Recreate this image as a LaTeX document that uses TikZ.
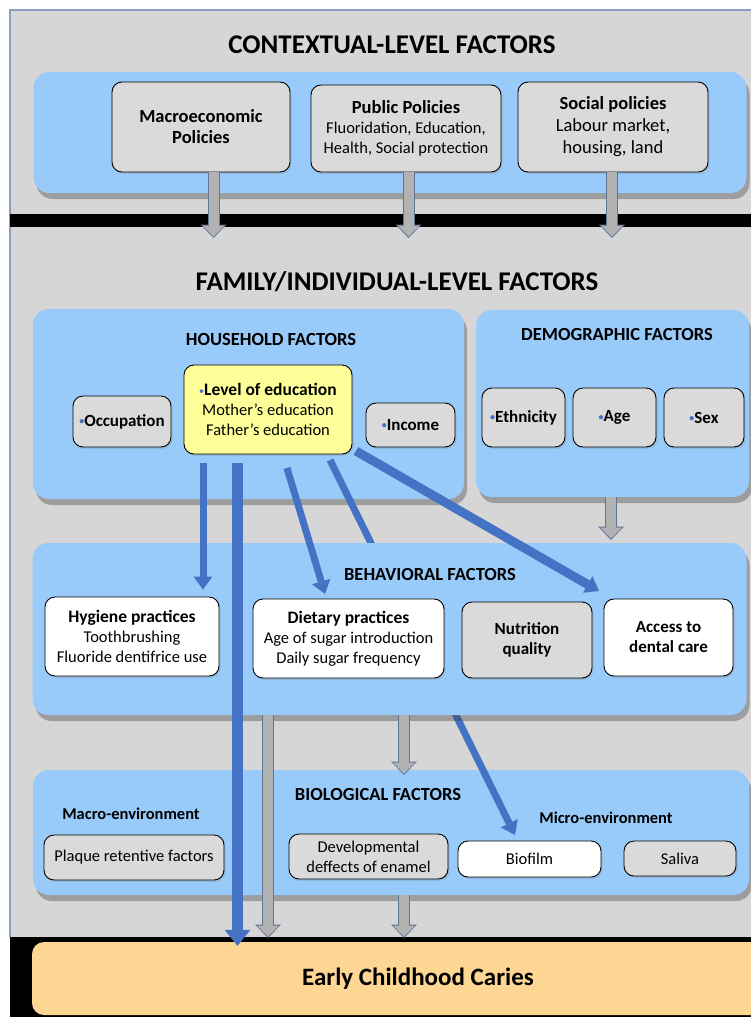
\documentclass[tikz,border=0pt]{standalone}
\usepackage{fontspec}
\setmainfont{Carlito}
\usepackage{xcolor}
\usetikzlibrary{arrows.meta,shadows}

\definecolor{bggray}{RGB}{214,214,214}
\definecolor{framecol}{RGB}{140,160,190}
\definecolor{panelblue}{RGB}{153,203,250}
\definecolor{boxgray}{RGB}{218,218,218}
\definecolor{eduyellow}{RGB}{255,255,153}
\definecolor{eccorange}{RGB}{253,214,148}
\definecolor{arrblue}{RGB}{68,114,196}
\definecolor{arrgray}{RGB}{178,178,178}
\definecolor{arredge}{RGB}{96,116,148}
\definecolor{bulblue}{RGB}{68,114,196}

\newcommand{\hbul}{\raisebox{1.5pt}{\textcolor{bulblue}{\fontsize{10}{10}\selectfont\textbullet}}}
\newcommand{\bhead}[2][17.5]{{\fontsize{#1}{20}\selectfont\bfseries #2}}

\tikzset{
  title/.style={font=\fontsize{27}{30}\selectfont\bfseries},
  subhead/.style={font=\fontsize{18.5}{21}\selectfont\bfseries},
  envhead/.style={font=\fontsize{16.5}{19}\selectfont\bfseries},
  panel/.style={fill=panelblue,rounded corners=16pt,
    drop shadow={shadow xshift=3pt,shadow yshift=-6pt,opacity=0.35,fill=black!80}},
  factbox/.style={draw=black,line width=0.9pt,fill=boxgray,rounded corners=10pt,
    align=center,inner sep=1pt,font=\fontsize{16.5}{20}\selectfont,
    drop shadow={shadow xshift=1.5pt,shadow yshift=-2pt,opacity=0.25}},
  whitebox/.style={factbox,fill=white},
  boldbox/.style={factbox,font=\fontsize{17}{20}\selectfont\bfseries},
  grayarr/.style={draw=arrgray,line width=10pt,
    -{Triangle[width=22pt,length=11pt,line width=0pt]},shorten >=1.5pt,
    preaction={draw=arredge,line width=12pt,
      -{Triangle[width=26pt,length=13.5pt,line width=0pt]},shorten >=0pt}},
  bluearr/.style={draw=arrblue,line width=7pt,
    -{Triangle[width=19pt,length=13pt,line width=0pt]}},
  thickbluearr/.style={bluearr,line width=11pt,
    -{Triangle[width=26pt,length=16pt,line width=0pt]}}
}

\begin{document}
\begin{tikzpicture}[x=1pt,y=-1pt]
    \useasboundingbox (0,0) rectangle (751,1017);
    % background and black bands
    \fill[bggray] (10,10) rectangle (751,937);
    \draw[framecol,line width=1.2pt] (10,937) -- (10,10) -- (751,10);
    \fill[black] (10,214) rectangle (751,227);
    \fill[black] (10,937) rectangle (751,1017);

    % contextual level
    \node[title] (ctxtitle) at (392,45) {CONTEXTUAL-LEVEL FACTORS};
    \node[panel,minimum width=713,minimum height=121] (ctxpanel) at (390,132.5) {};
    \node[factbox,font=\fontsize{18.5}{21}\selectfont\bfseries,
      minimum width=178,minimum height=90] (macro) at (201,127) {Macroeconomic\\Policies};
    \node[factbox,minimum width=190,minimum height=87] (public) at (406,128.5)
      {\bhead[18.5]{Public Policies}\\Fluoridation, Education,\\Health, Social protection};
    \node[factbox,font=\fontsize{18.5}{22}\selectfont,
      minimum width=190,minimum height=90] (social) at (613,127)
      {\textbf{Social policies}\\Labour market,\\housing, land};
    \coordinate (macrotip) at (213.5,238);
    \coordinate (publictip) at (408.5,238);
    \coordinate (socialtip) at (612,238);
    \draw[grayarr] (macro.south -| macrotip) -- (macrotip);
    \draw[grayarr] (public.south -| publictip) -- (publictip);
    \draw[grayarr] (social.south -| socialtip) -- (socialtip);

    % family / individual level
    \node[title] (famtitle) at (397,282) {FAMILY/INDIVIDUAL-LEVEL FACTORS};
    \node[panel,minimum width=431,minimum height=190] (household) at (248.5,404) {};
    \node[panel,minimum width=273,minimum height=187] (demo) at (612.5,403.5) {};
    \node[subhead] (hhhead) at (271,339) {HOUSEHOLD FACTORS};
    \node[subhead] (demohead) at (617,334.5) {DEMOGRAPHIC FACTORS};
    \node[boldbox,minimum width=98,minimum height=51] (occup) at (122,421.5) {\hbul Occupation};
    \node[factbox,fill=eduyellow,minimum width=168,minimum height=89] (edu) at (268,409.5)
      {\hbul\bhead{Level of education}\\Mother's education\\Father's education};
    \node[boldbox,minimum width=89,minimum height=44] (income) at (410.5,425) {\hbul Income};
    \node[boldbox,minimum width=83,minimum height=59] (ethn) at (523.5,417.5) {\hbul Ethnicity};
    \node[boldbox,minimum width=83,minimum height=59] (age) at (614.5,417.5) {\hbul Age};
    \node[boldbox,minimum width=80,minimum height=59] (sex) at (704,417.5) {\hbul Sex};
    \coordinate (demotip) at (611,540);
    \draw[grayarr] (demo.south -| demotip) -- (demotip);

    % biological factors (under the behavioral panel)
    \node[panel,minimum width=716,minimum height=125] (bio) at (391,832.5) {};
    \node[subhead] (biohead) at (378,794) {BIOLOGICAL FACTORS};
    \node[envhead] (macroenv) at (131,814) {Macro-environment};
    \node[envhead] (microenv) at (606,818) {Micro-environment};
    \node[factbox,minimum width=180,minimum height=45] (plaque) at (134,857.5) {Plaque retentive factors};
    \node[factbox,minimum width=159,minimum height=45] (enamel) at (368.5,856.5) {Developmental\\deffects of enamel};
    \node[whitebox,minimum width=143,minimum height=36] (biofilm) at (529.5,859) {Biofilm};
    \node[factbox,minimum width=112,minimum height=35] (saliva) at (680,858.5) {Saliva};
    \coordinate (eduD) at (330,460);
    \coordinate (filmin) at (515,835);
    \draw[bluearr] (eduD) -- (filmin);

    % behavioral factors
    \node[panel,minimum width=714,minimum height=172] (behav) at (389.5,629) {};
    \node[subhead] (behavhead) at (430,574) {BEHAVIORAL FACTORS};
    \node[whitebox,minimum width=174,minimum height=79] (hygiene) at (132,636.5)
      {\bhead{Hygiene practices}\\Toothbrushing\\Fluoride dentifrice use};
    \node[whitebox,minimum width=191,minimum height=79] (diet) at (348.5,638.5)
      {\bhead{Dietary practices}\\Age of sugar introduction\\Daily sugar frequency};
    \node[boldbox,minimum width=130,minimum height=76] (nutrition) at (527,640) {Nutrition\\quality};
    \node[boldbox,fill=white,minimum width=129,minimum height=77] (access) at (668.5,637.5) {Access to\\dental care};

    % arrows from level of education
    \coordinate (eduA) at (203,463);
    \coordinate (eduB) at (237.5,463);
    \coordinate (eduC) at (287,468);
    \coordinate (eduE) at (356,451);
    \coordinate (dietin) at (325,594);
    \coordinate (accin) at (599,591);
    \draw[bluearr] (eduA) -- ([yshift=7pt]hygiene.north -| eduA);
    \draw[bluearr] (eduC) -- (dietin);
    \draw[bluearr,line width=9pt] (eduE) -- (accin);

    % early childhood caries
    \node[fill=eccorange,rounded corners=12pt,minimum width=772,minimum height=73,
      font=\fontsize{25}{28}\selectfont\bfseries] (ecc) at (418,978.5) {Early Childhood Caries};
    \coordinate (biotip) at (404,775);
    \coordinate (ecctipA) at (268,938);
    \coordinate (ecctipB) at (404,938);
    \draw[grayarr] (behav.south -| biotip) -- (biotip);
    \draw[grayarr] (behav.south -| ecctipA) -- (ecctipA);
    \draw[grayarr] (bio.south -| ecctipB) -- (ecctipB);
    \draw[thickbluearr] (eduB) -- ([yshift=-4pt]ecc.north -| eduB);
\end{tikzpicture}
\end{document}
